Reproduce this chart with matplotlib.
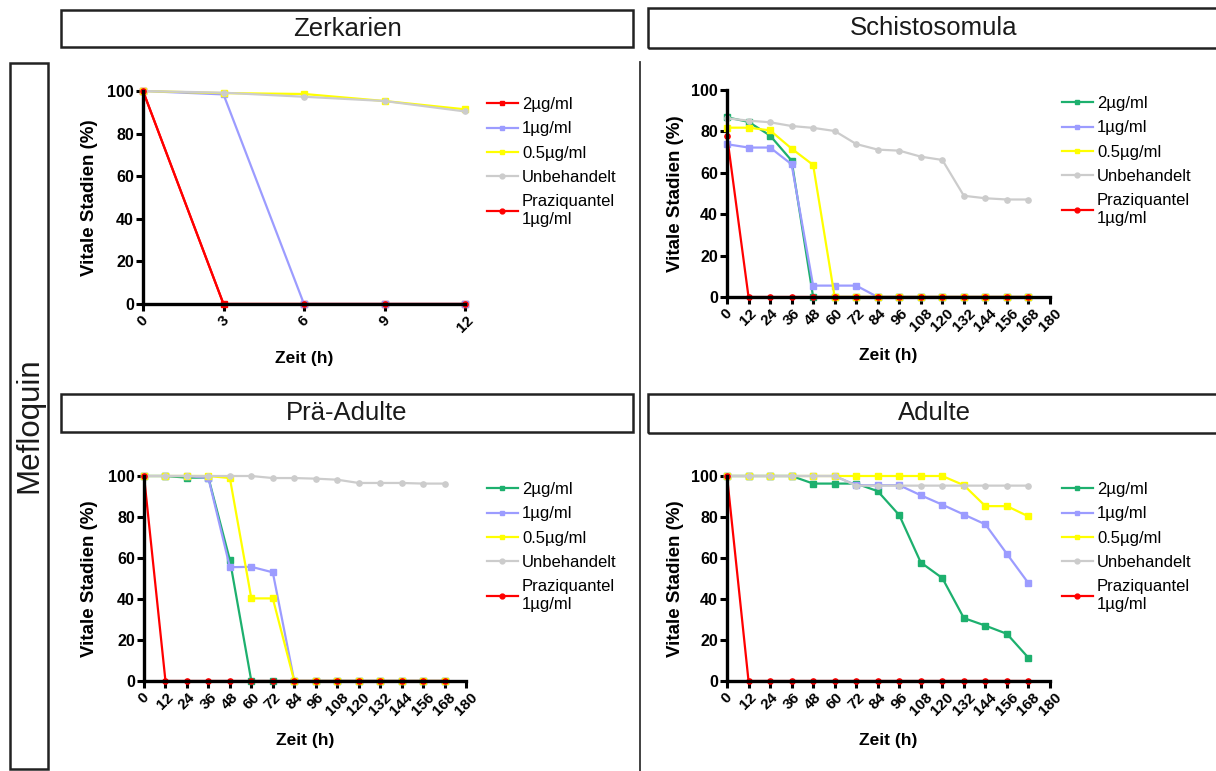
import matplotlib
matplotlib.use("Agg")
import matplotlib.pyplot as plt
from matplotlib.patches import Rectangle
from matplotlib.lines import Line2D

plt.rcParams['font.family'] = ['Liberation Sans', 'DejaVu Sans']

W, H = 1216, 771

# ---------------- data ----------------
labels = ["2µg/ml", "1µg/ml", "0.5µg/ml", "Unbehandelt", "Praziquantel\n1µg/ml"]

# Zerkarien
x_zerk = [0, 3, 6, 9, 12]
zerk_2 = [100, 0, 0, 0, 0]
zerk_1 = [100, 98.4, 0, 0, 0]
zerk_05 = [100, 99, 98.6, 95.3, 91.4]
zerk_unb = [100, 99.2, 97.3, 95.3, 90.4]
zerk_pzq = [100, 0, 0, 0, 0]

# Schistosomula
x_long = [0, 12, 24, 36, 48, 60, 72, 84, 96, 108, 120, 132, 144, 156, 168]
schi_2 = [86.8, 84.6, 78, 65.9, 0, 0, 0, 0, 0, 0, 0, 0, 0, 0, 0]
schi_1 = [73.8, 72.2, 72.2, 64.1, 5.5, 5.5, 5.5, 0, 0, 0, 0, 0, 0, 0, 0]
schi_05 = [81.8, 81.8, 80.5, 71.7, 63.8, 0, 0, 0, 0, 0, 0, 0, 0, 0, 0]
schi_unb = [86.3, 85.2, 84.4, 82.6, 81.7, 80.2, 73.9, 71.2, 70.7, 67.8, 66.2, 48.9, 47.7, 47.1, 47.1]
schi_pzq = [78, 0, 0, 0, 0, 0, 0, 0, 0, 0, 0, 0, 0, 0, 0]

# Prä-Adulte
prae_2 = [100, 100, 99.2, 99.2, 59, 0, 0, 0, 0, 0, 0, 0, 0, 0, 0]
prae_1 = [100, 100, 100, 99, 55.5, 55.7, 53, 0, 0, 0, 0, 0, 0, 0, 0]
prae_05 = [100, 100, 100, 100, 99, 40.3, 40.3, 0, 0, 0, 0, 0, 0, 0, 0]
prae_unb = [100, 100, 100, 100, 100, 100, 99, 99, 98.7, 98.2, 96.6, 96.6, 96.6, 96.3, 96.3]
prae_pzq = [100, 0, 0, 0, 0, 0, 0, 0, 0, 0, 0, 0, 0, 0, 0]

# Adulte
adul_2 = [100, 100, 100, 100, 96.3, 96.3, 96.3, 92.6, 80.9, 57.8, 50.2, 30.7, 27, 23, 11.3]
adul_1 = [100, 100, 100, 100, 100, 100, 95.5, 95.5, 95.5, 90.6, 86, 81.2, 76.4, 62, 47.7]
adul_05 = [100, 100, 100, 100, 100, 100, 100, 100, 100, 100, 100, 95.5, 85.3, 85.3, 80.3]
adul_unb = [100, 100, 100, 100, 100, 100, 95.3, 95.3, 95.3, 95.3, 95.3, 95.3, 95.3, 95.3, 95.3]
adul_pzq = [100, 0, 0, 0, 0, 0, 0, 0, 0, 0, 0, 0, 0, 0, 0]

long_ticks = list(range(0, 181, 12))
y_ticks = [0, 20, 40, 60, 80, 100]

panel_titles = ["Zerkarien", "Schistosomula", "Prä-Adulte", "Adulte"]
side_label = "Mefloquin"

# ---------------- styles ----------------
RED = "#FF0000"
GREEN = "#1DB06E"
LAV = "#9C9CFF"
YEL = "#FFFF00"
GREY = "#CCCCCC"
markers = ["s", "s", "s", "o", "o"]

fig = plt.figure(figsize=(W / 100, H / 100), dpi=100)


def rect(x0, x1, ytop, ybot):
    return [x0 / W, 1 - ybot / H, (x1 - x0) / W, (ybot - ytop) / H]


def make_panel(box, xs, series, colors, xlim, xticks, legend_x, legend_y, xlabel_y, ylabel_x):
    ax = fig.add_axes(rect(*box))
    x0, x1, ytop, ybot = box
    for ys, c, m, lab in zip(series, colors, markers, labels):
        ax.plot(xs, ys, color=c, lw=1.6, marker=m, ms=3.8, mec=c, mfc=c,
                label=lab, clip_on=False, zorder=2)
    ax.set_xlim(*xlim)
    ax.set_ylim(0, 100)
    ax.set_xticks(xticks)
    ax.set_yticks(y_ticks)
    for s in ["top", "right"]:
        ax.spines[s].set_visible(False)
    for s in ["left", "bottom"]:
        ax.spines[s].set_linewidth(2.4)
        ax.spines[s].set_zorder(3)
    ax.tick_params(axis="both", direction="out", length=5, width=2.2, pad=1.5)
    for t in ax.get_xticklabels():
        t.set_rotation(45)
        t.set_fontweight("bold")
        t.set_fontsize(11)
    for t in ax.get_yticklabels():
        t.set_fontweight("bold")
        t.set_fontsize(11.5)
    ax.set_xlabel("Zeit (h)", fontweight="bold", fontsize=12.5)
    ax.xaxis.set_label_coords(((x0 + x1) / 2 - x0) / (x1 - x0),
                              -(xlabel_y - ybot) / (ybot - ytop))
    ax.set_ylabel("Vitale Stadien (%)", fontweight="bold", fontsize=13.5)
    ax.yaxis.set_label_coords(-(x0 - ylabel_x) / (x1 - x0), 0.5)
    ax.patch.set_alpha(0)
    leg = ax.legend(loc="upper left", bbox_to_anchor=(legend_x / W, 1 - legend_y / H),
                    bbox_transform=fig.transFigure, frameon=False, fontsize=12,
                    handlelength=1.85, handletextpad=0.25, labelspacing=0.56,
                    borderpad=0, borderaxespad=0)
    for h in leg.legend_handles:
        h.set_markersize(3.5)
    return ax


cols_a = [RED, LAV, YEL, GREY, RED]
cols_b = [GREEN, LAV, YEL, GREY, RED]

make_panel((143, 465, 91, 304), x_zerk, [zerk_2, zerk_1, zerk_05, zerk_unb, zerk_pzq],
           cols_a, (0, 12), x_zerk, 487, 97, 351, 98)
make_panel((727, 1050, 90, 297), x_long, [schi_2, schi_1, schi_05, schi_unb, schi_pzq],
           cols_b, (0, 180), long_ticks, 1062, 96, 348, 684)
make_panel((144, 466, 476, 681), x_long, [prae_2, prae_1, prae_05, prae_unb, prae_pzq],
           cols_b, (0, 180), long_ticks, 487, 482, 733, 98)
make_panel((727, 1050, 476, 681), x_long, [adul_2, adul_1, adul_05, adul_unb, adul_pzq],
           cols_b, (0, 180), long_ticks, 1062, 482, 733, 684)


# ---------------- frame decorations ----------------
def box_px(x0, y0, x1, y1, lw=1.8):
    r = Rectangle((x0 / W, 1 - y1 / H), (x1 - x0) / W, (y1 - y0) / H,
                  transform=fig.transFigure, fill=False, edgecolor="#222222",
                  linewidth=lw, clip_on=False)
    fig.add_artist(r)


title_boxes = [(61, 10, 633, 47), (648, 8, 1222, 48), (61, 394, 633, 432), (648, 394, 1222, 433)]
title_centers = [347, 934, 347, 934]
for (bx0, by0, bx1, by1), title, cx in zip(title_boxes, panel_titles, title_centers):
    box_px(bx0, by0, bx1, by1)
    fig.text(cx / W, 1 - ((by0 + by1) / 2) / H, title, ha="center", va="center",
             fontsize=18.5, color="#1a1a1a")

# side label box
box_px(10, 63, 48, 769)
fig.text(29 / W, 1 - 425 / H, side_label, rotation=90, ha="center", va="center",
         fontsize=22.5, color="#1a1a1a")

# vertical divider
fig.add_artist(Line2D([640 / W, 640 / W], [1 - 62 / H, 0], transform=fig.transFigure,
                      color="#333333", linewidth=1.3))

fig.savefig("out.png", dpi=100)
